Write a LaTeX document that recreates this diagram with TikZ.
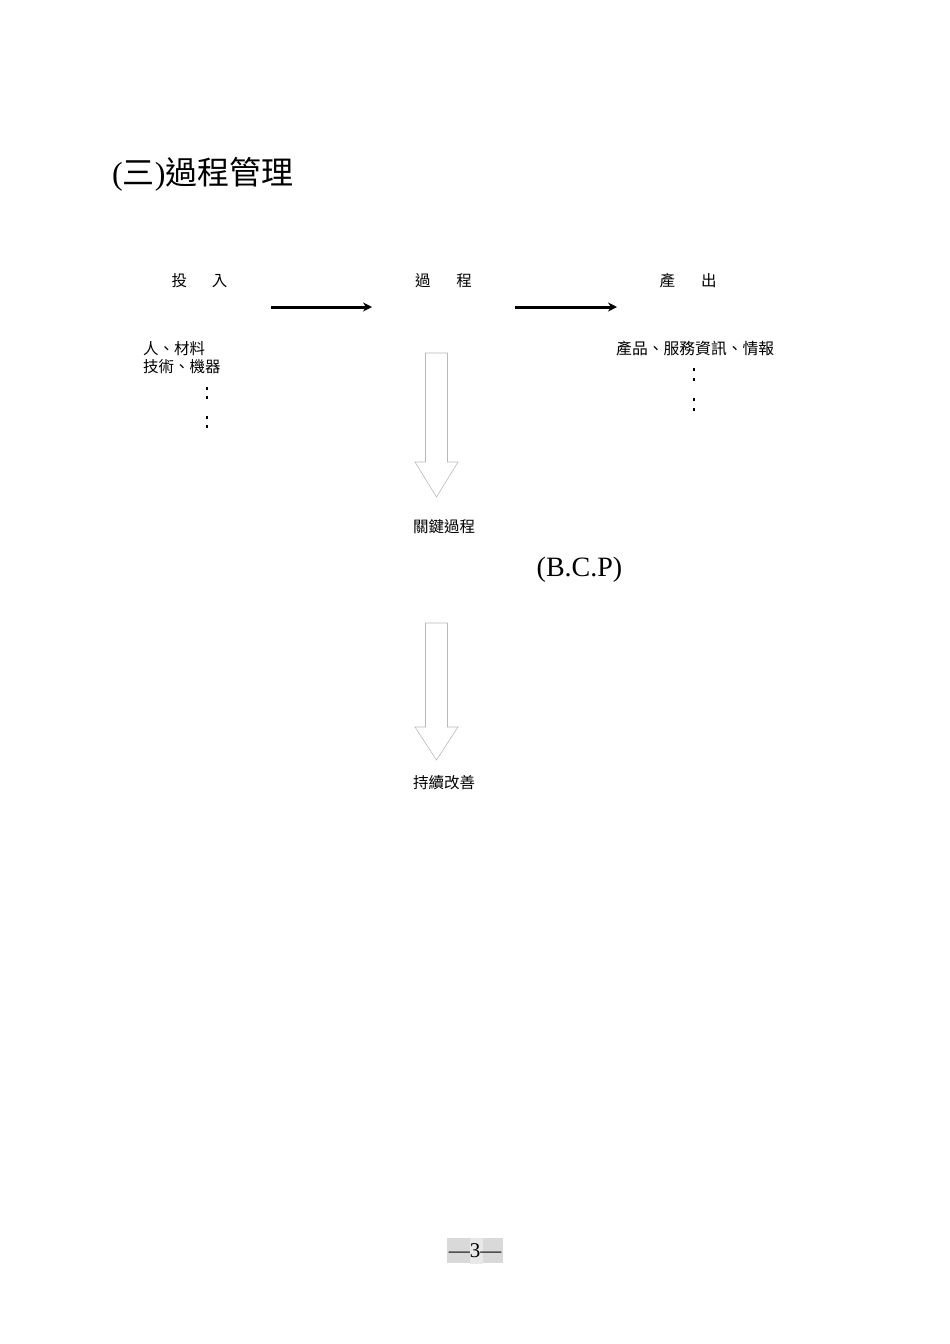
\documentclass[tikz,border=0pt]{standalone}
\usepackage{fontspec}
\setmainfont{Liberation Serif}
\newfontfamily\cjk{Noto Sans CJK TC}
\usetikzlibrary{arrows.meta}
\begin{document}
\begin{tikzpicture}[x=1pt,y=-1pt,
  lbl/.style={inner sep=0pt, font=\cjk\fontsize{15.5}{18}\selectfont},
  flow/.style={line width=3pt, -{Stealth[length=9pt,width=9pt,inset=3pt]}},
  hollow/.style={draw=gray!55, line width=0.6pt, fill=white},
  dot/.style={fill=black}]
\useasboundingbox (0,0) rectangle (950,1344);
\fill[white] (0,0) rectangle (950,1344);
% title
\node[anchor=west, inner sep=0pt, font=\fontsize{32}{36}\selectfont] (title) at (112,174) {({\cjk 三}){\cjk 過程管理}};
% headings
\node[lbl] (in) at (199.5,281) {投\hspace{25pt}入};
\node[lbl] (proc) at (443.5,281) {過\hspace{26pt}程};
\node[lbl] (out) at (688,281) {產\hspace{26pt}出};
% flow arrows
\coordinate (a1s) at (271,307); \coordinate (a1e) at (372,307);
\coordinate (a2s) at (515,307); \coordinate (a2e) at (617,307);
\draw[flow] (a1s) -- (a1e);
\draw[flow] (a2s) -- (a2e);
% input list
\node[lbl, anchor=west] (in1) at (143,349) {人、材料};
\node[lbl, anchor=west] (in2) at (143,367) {技術、機器};
\foreach \y in {388,397,417,426} \fill[dot] (205.7,\y-1.5) rectangle (208.3,\y+1.5);
% output list
\node[lbl, anchor=west, font=\cjk\fontsize{15.8}{18}\selectfont] (out1) at (616,349) {產品、服務資訊、情報};
\foreach \y in {369,379,399,409} \fill[dot] (692.7,\y-1.5) rectangle (695.3,\y+1.5);
% hollow arrow 1
\draw[hollow] (425.5,353) -- (447.5,353) -- (447.5,462) -- (458,462) -- (436.5,497) -- (415,462) -- (425.5,462) -- cycle;
\node[lbl] (key) at (444,527) {關鍵過程};
\node[inner sep=0pt, font=\fontsize{28}{32}\selectfont] (bcp) at (579.5,570) {(B.C.P)};
% hollow arrow 2
\draw[hollow] (425.5,623) -- (447.5,623) -- (447.5,727) -- (458,727) -- (436.5,760) -- (415,727) -- (425.5,727) -- cycle;
\node[lbl] (cont) at (444,783) {持續改善};
% page number
\fill[black!15] (447,1238) rectangle (503,1263);
\fill[black!9] (470,1238) rectangle (483,1264);
\node[inner sep=0pt, font=\fontsize{21}{24}\selectfont] (page) at (475,1251) {—3—};
\end{tikzpicture}
\end{document}
